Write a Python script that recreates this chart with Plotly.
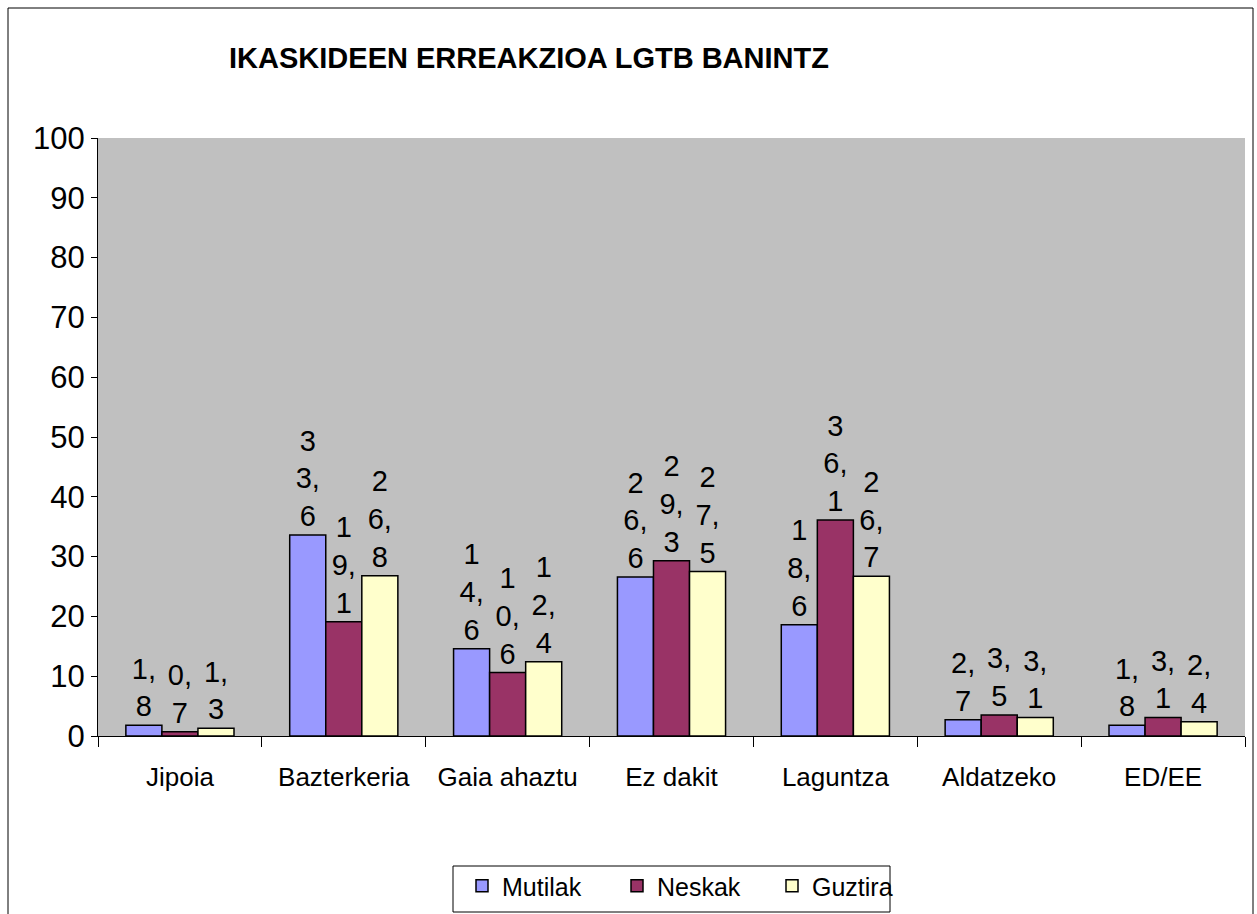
import plotly.graph_objects as go

categories = ["Jipoia", "Bazterkeria", "Gaia ahaztu", "Ez dakit", "Laguntza", "Aldatzeko", "ED/EE"]
mutilak = [1.8, 33.6, 14.6, 26.6, 18.6, 2.7, 1.8]
neskak = [0.7, 19.1, 10.6, 29.3, 36.1, 3.5, 3.1]
guztira = [1.3, 26.8, 12.4, 27.5, 26.7, 3.1, 2.4]

y_ticks = list(range(0, 101, 10))

FONT = "Liberation Sans, Arial, sans-serif"

W, H = 1257, 914
L, R, T, B = 98, 12, 138, 178
PW, PH = W - L - R, H - T - B


def px(x):
    return (x - L) / PW


def py(y):
    return (H - B - y) / PH


def wrap_label(v):
    # narrow excel-style labels: one digit per line, comma kept with the digit before it
    s = f"{v:.1f}".replace(".", ",")
    parts = []
    for ch in s:
        if ch == "," and parts:
            parts[-1] += ch
        else:
            parts.append(ch)
    return "<br>".join(parts)


def get_plot():
    fig = go.Figure()
    series = [
        ("Mutilak", mutilak, "#9999FF"),
        ("Neskak", neskak, "#993366"),
        ("Guztira", guztira, "#FFFFCC"),
    ]
    for name, vals, color in series:
        fig.add_trace(go.Bar(
            x=categories, y=vals, name=name,
            marker=dict(color=color, line=dict(color="black", width=1.5)),
            text=[wrap_label(v) for v in vals],
            textposition="outside",
            textfont=dict(family=FONT, size=29, color="black"),
            constraintext="none",
            cliponaxis=False,
        ))

    fig.update_layout(
        width=W, height=H,
        margin=dict(l=L, r=R, t=T, b=B, autoexpand=False),
        paper_bgcolor="white",
        plot_bgcolor="#C0C0C0",
        barmode="group",
        bargap=0.34,
        bargroupgap=0,
        font=dict(family=FONT, color="black"),
        title=dict(
            text="<b>IKASKIDEEN ERREAKZIOA LGTB BANINTZ</b>",
            font=dict(family=FONT, size=29, color="black"),
            x=px(529), xref="paper", xanchor="center",
            y=1 - 58 / H, yref="container", yanchor="middle",
        ),
        showlegend=True,
        legend=dict(
            orientation="h",
            x=px(462), xanchor="left",
            y=py(863), yanchor="top",
            borderwidth=0,
            font=dict(family=FONT, size=25, color="black"),
            entrywidth=110,
            bgcolor="rgba(0,0,0,0)",
        ),
    )
    fig.update_xaxes(
        showline=True, linecolor="black", linewidth=1,
        ticks="outside", tickson="boundaries", ticklen=10, tickcolor="black",
        tickfont=dict(family=FONT, size=26, color="black"),
        ticklabelstandoff=18,
        showgrid=False, automargin=False,
    )
    fig.update_yaxes(
        range=[0, 100], tickvals=y_ticks,
        showline=True, linecolor="black", linewidth=1,
        ticks="outside", ticklen=6, tickcolor="black",
        tickfont=dict(family=FONT, size=31, color="black"),
        showgrid=False, zeroline=False, automargin=False,
    )
    # outer chart frame
    fig.add_shape(
        type="rect", xref="paper", yref="paper",
        x0=px(8), x1=px(1253), y0=py(930), y1=py(8),
        line=dict(color="black", width=1), layer="below",
    )
    # legend frame (the last entry spills over it, as in the original)
    fig.add_shape(
        type="rect", xref="paper", yref="paper",
        x0=px(453), x1=px(890), y0=py(912), y1=py(866),
        line=dict(color="black", width=1), layer="below",
    )
    return fig


fig = get_plot()
# drop the default body margin and scrollbars so the figure fills the window exactly
page_css = (
    "document.body.style.margin='0';"
    "document.body.style.overflow='hidden';"
    "document.documentElement.style.overflow='hidden';"
)
fig.write_html("out.html", config={"displayModeBar": False}, post_script=page_css)
